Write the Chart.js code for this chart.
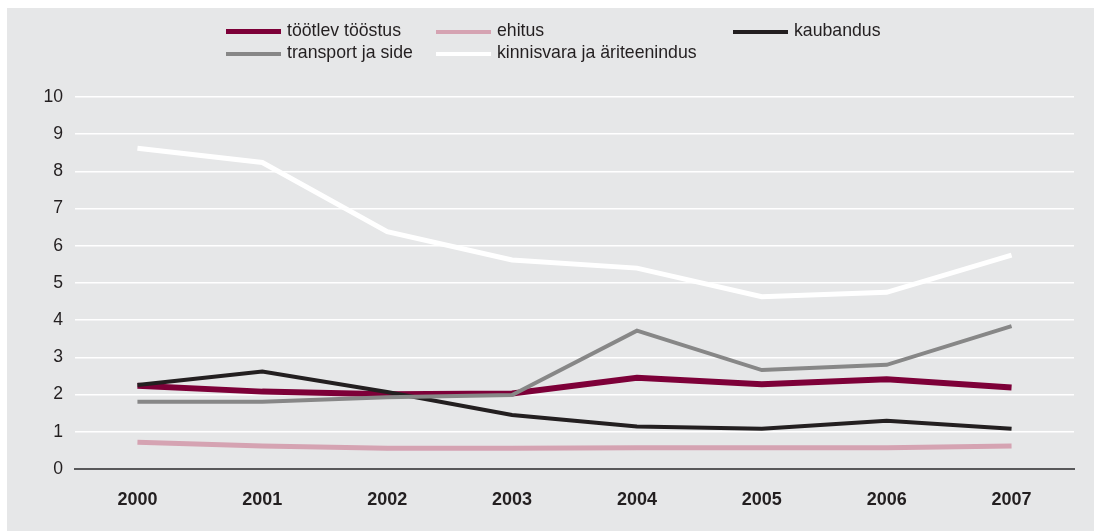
<!DOCTYPE html>
<html>
<head>
<meta charset="utf-8">
<script src="https://cdn.jsdelivr.net/npm/chart.js@4/dist/chart.umd.min.js"></script>
<style>
  html, body { margin: 0; padding: 0; background: #ffffff; }
  #wrap { position: relative; width: 1094px; height: 531px; overflow: hidden; }
  #panel { position: absolute; left: 7px; top: 8px; width: 1087px; height: 523px; background: #e6e7e8; }
  #chart { position: absolute; left: 0; top: 0; }
  .lg { position: absolute; font-family: "Liberation Sans", Arial, sans-serif; font-size: 17.7px; color: #231f20; white-space: nowrap; line-height: 20px; }
  .lg .sw { position: absolute; left: 0; width: 55px; }
  .lg .tx { position: absolute; left: 61px; top: 0; }
</style>
</head>
<body>
<div id="wrap">
  <div id="panel"></div>
  <canvas id="chart" width="1094" height="531"></canvas>
</div>
<script>
// Years on the category axis
const years = ['2000', '2001', '2002', '2003', '2004', '2005', '2006', '2007'];

// Series values by branch
const tootlevTooostus = [2.24, 2.08, 2.01, 2.03, 2.45, 2.28, 2.41, 2.19];
const ehitus = [0.72, 0.62, 0.56, 0.56, 0.57, 0.57, 0.57, 0.62];
const kaubandus = [2.26, 2.62, 2.07, 1.45, 1.14, 1.08, 1.30, 1.08];
const transportJaSide = [1.81, 1.81, 1.93, 1.99, 3.72, 2.66, 2.80, 3.84];
const kinnisvara = [8.62, 8.24, 6.38, 5.62, 5.40, 4.63, 4.75, 5.75];

// Series names
const seriesNames = ['töötlev tööstus', 'ehitus', 'kaubandus', 'transport ja side', 'kinnisvara ja äriteenindus'];

// Y axis range
const yMin = 0;
const yMax = 10;
const yStep = 1;

const seriesStyles = [
  { color: '#7d0038', width: 6, order: 3 },
  { color: '#d5a3b2', width: 5, order: 4 },
  { color: '#231f20', width: 4, order: 2 },
  { color: '#878787', width: 4, order: 1 },
  { color: '#ffffff', width: 5, order: 0 }
];
const seriesValues = [tootlevTooostus, ehitus, kaubandus, transportJaSide, kinnisvara];

const datasets = seriesNames.map((name, i) => ({
  label: name,
  data: seriesValues[i],
  borderColor: seriesStyles[i].color,
  backgroundColor: seriesStyles[i].color,
  borderWidth: seriesStyles[i].width,
  pointRadius: 0,
  pointHoverRadius: 0,
  tension: 0,
  fill: false,
  borderCapStyle: 'butt',
  borderJoinStyle: 'miter',
  order: seriesStyles[i].order
}));

const textColor = '#231f20';
const fontFamily = '"Liberation Sans", Arial, sans-serif';

new Chart(document.getElementById('chart'), {
  type: 'line',
  data: { labels: years, datasets },
  options: {
    responsive: false,
    animation: false,
    events: [],
    layout: { padding: { top: 97, right: 20, bottom: 0, left: 0 } },
    plugins: {
      legend: { display: false },
      tooltip: { enabled: false },
      title: { display: false }
    },
    scales: {
      x: {
        offset: true,
        grid: { display: false, drawTicks: false },
        border: { display: true, color: '#58585a', width: 2 },
        ticks: {
          color: textColor,
          padding: 20,
          font: { family: fontFamily, size: 18, weight: 'bold' },
          maxRotation: 0
        },
        afterFit: (scale) => { scale.height = 62; }
      },
      y: {
        min: yMin,
        max: yMax,
        grid: {
          color: (ctx) => (ctx.tick && ctx.tick.value === 0) ? 'rgba(0,0,0,0)' : '#ffffff',
          lineWidth: 1.5,
          drawTicks: false
        },
        border: { display: false },
        ticks: {
          stepSize: yStep,
          color: textColor,
          padding: 12,
          font: { family: fontFamily, size: 17.6 }
        },
        afterFit: (scale) => { scale.width = 75; }
      }
    }
  }
});

// Legend laid out in two rows and three columns above the plot
const legendSlots = [
  { x: 226, y: 20 }, { x: 436, y: 20 }, { x: 733, y: 20 },
  { x: 226, y: 42 }, { x: 436, y: 42 }
];
const wrap = document.getElementById('wrap');
seriesNames.forEach((name, i) => {
  const item = document.createElement('div');
  item.className = 'lg';
  item.style.left = legendSlots[i].x + 'px';
  item.style.top = legendSlots[i].y + 'px';
  const sw = document.createElement('div');
  sw.className = 'sw';
  const h = Math.max(4, seriesStyles[i].width - 1);
  sw.style.height = h + 'px';
  sw.style.top = (11.5 - h / 2) + 'px';
  sw.style.background = seriesStyles[i].color;
  const tx = document.createElement('div');
  tx.className = 'tx';
  tx.textContent = name;
  item.appendChild(sw);
  item.appendChild(tx);
  wrap.appendChild(item);
});
</script>
</body>
</html>
